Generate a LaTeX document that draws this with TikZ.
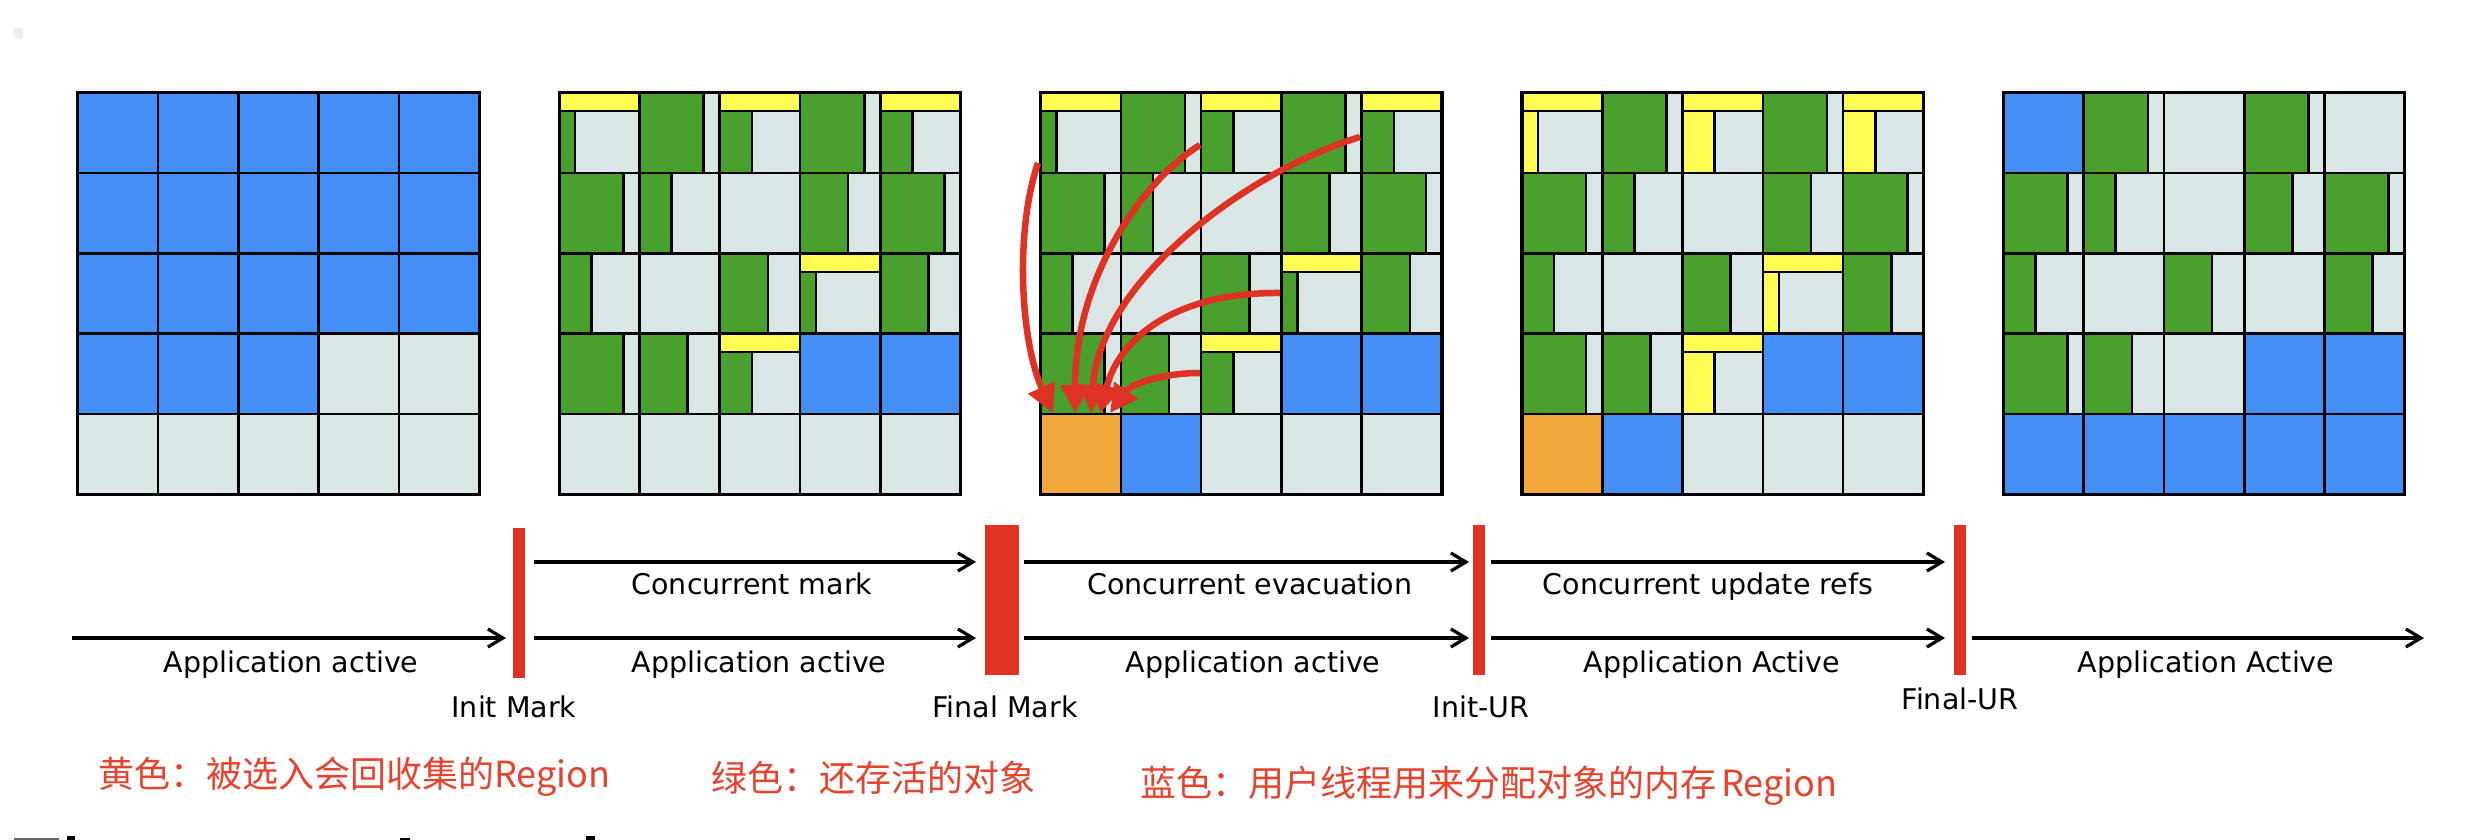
\documentclass[tikz,border=0pt]{standalone}
\usepackage{fontspec}
\setmainfont{DejaVu Sans}
\newfontfamily\cjkfont{Noto Sans CJK SC}
\usetikzlibrary{arrows.meta}
\definecolor{cblue}{HTML}{438FF6}
\definecolor{cgreen}{HTML}{4AA02C}
\definecolor{cgray}{HTML}{DAE5E5}
\definecolor{cyellow}{HTML}{FFFD54}
\definecolor{corange}{HTML}{F2A83B}
\definecolor{cred}{HTML}{DD3224}
\definecolor{clegend}{HTML}{E6432F}
\definecolor{cspeck}{HTML}{EEEEEE}
\definecolor{cfrag}{HTML}{666666}
\newcommand\cellxy[3]{\pgfmathsetmacro\gcx{#1+(#3-1)*80.3}\pgfmathsetmacro\gcy{92.7+(#2-1)*80.3}}
\newcommand\cfull[4]{\cellxy{#1}{#2}{#3}\draw[cellline,fill=#4] (\gcx,\gcy) rectangle ++(80.3,80.3);}
\newcommand\csplit[4]{\cellxy{#1}{#2}{#3}%
  \draw[cellline,fill=cgray] (\gcx,\gcy) rectangle ++(80.3,80.3);
  \draw[cellline,fill=cgreen] (\gcx,\gcy) rectangle ++(#4*80.3,80.3);}
\newcommand\cband[5]{\cellxy{#1}{#2}{#3}%
  \draw[cellline,fill=cgray] (\gcx,\gcy) rectangle ++(80.3,80.3);
  \draw[cellline,fill=cyellow] (\gcx,\gcy) rectangle ++(80.3,18.5);
  \draw[cellline,fill=#4] (\gcx,\gcy+18.5) rectangle ++(#5*80.3,61.8);}
\newcommand\midgrid[2]{%
  \cband{#1}{1}{1}{#2}{0.2}\csplit{#1}{1}{2}{0.8}\cband{#1}{1}{3}{#2}{0.4}\csplit{#1}{1}{4}{0.8}\cband{#1}{1}{5}{#2}{0.4}%
  \csplit{#1}{2}{1}{0.8}\csplit{#1}{2}{2}{0.4}\cfull{#1}{2}{3}{cgray}\csplit{#1}{2}{4}{0.6}\csplit{#1}{2}{5}{0.8}%
  \csplit{#1}{3}{1}{0.4}\cfull{#1}{3}{2}{cgray}\csplit{#1}{3}{3}{0.6}\cband{#1}{3}{4}{#2}{0.2}\csplit{#1}{3}{5}{0.6}%
  \csplit{#1}{4}{1}{0.8}\csplit{#1}{4}{2}{0.6}\cband{#1}{4}{3}{#2}{0.4}\cfull{#1}{4}{4}{cblue}\cfull{#1}{4}{5}{cblue}}
\newcommand\gborder[1]{\draw[outerline] (#1,92.7) rectangle ++(401.5,401.5);}
\begin{document}
\begin{tikzpicture}[x=1pt,y=-1pt,
  cellline/.style={draw=black,line width=2.6pt},
  outerline/.style={draw=black,line width=3.2pt},
  tl/.style={draw=black,line width=3.2pt,-{Straight Barb[length=15pt,width=18pt]}},
  evac/.style={draw=cred,line width=6.5pt,-{Triangle[length=28pt,width=28pt]}},
  pausebar/.style={fill=cred,draw=none},
  lbl/.style={font=\fontsize{28.5}{34}\selectfont,anchor=base,inner sep=0pt},
  legend/.style={font=\cjkfont\fontsize{36}{42}\selectfont,text=clegend,anchor=base west,inner sep=0pt}]
\useasboundingbox (0,0) rectangle (2478,840);
\fill[white] (0,0) rectangle (2478,840);
\fill[cspeck] (14,28) rectangle (23,38);
% ---------- grid 1
\foreach \r in {1,2,3}{\foreach \c in {1,...,5}{\cfull{77.7}{\r}{\c}{cblue}}}
\foreach \c in {1,2,3}{\cfull{77.7}{4}{\c}{cblue}}
\foreach \c in {4,5}{\cfull{77.7}{4}{\c}{cgray}}
\foreach \c in {1,...,5}{\cfull{77.7}{5}{\c}{cgray}}
\gborder{77.7}
% ---------- grid 2
\midgrid{559.1}{cgreen}
\foreach \c in {1,...,5}{\cfull{559.1}{5}{\c}{cgray}}
\gborder{559.1}
% ---------- grid 3
\midgrid{1040.5}{cgreen}
\cfull{1040.5}{5}{1}{corange}\cfull{1040.5}{5}{2}{cblue}
\foreach \c in {3,4,5}{\cfull{1040.5}{5}{\c}{cgray}}
\gborder{1040.5}
% ---------- grid 4
\midgrid{1521.9}{cyellow}
\cfull{1521.9}{5}{1}{corange}\cfull{1521.9}{5}{2}{cblue}
\foreach \c in {3,4,5}{\cfull{1521.9}{5}{\c}{cgray}}
\gborder{1521.9}
% ---------- grid 5
\cfull{2003.3}{1}{1}{cblue}\csplit{2003.3}{1}{2}{0.8}\cfull{2003.3}{1}{3}{cgray}\csplit{2003.3}{1}{4}{0.8}\cfull{2003.3}{1}{5}{cgray}
\csplit{2003.3}{2}{1}{0.8}\csplit{2003.3}{2}{2}{0.4}\cfull{2003.3}{2}{3}{cgray}\csplit{2003.3}{2}{4}{0.6}\csplit{2003.3}{2}{5}{0.8}
\csplit{2003.3}{3}{1}{0.4}\cfull{2003.3}{3}{2}{cgray}\csplit{2003.3}{3}{3}{0.6}\cfull{2003.3}{3}{4}{cgray}\csplit{2003.3}{3}{5}{0.6}
\csplit{2003.3}{4}{1}{0.8}\csplit{2003.3}{4}{2}{0.6}\cfull{2003.3}{4}{3}{cgray}\cfull{2003.3}{4}{4}{cblue}\cfull{2003.3}{4}{5}{cblue}
\foreach \c in {1,...,5}{\cfull{2003.3}{5}{\c}{cblue}}
\gborder{2003.3}
% ---------- evacuation arrows in grid 3
\coordinate (s1) at (1038,163); \coordinate (s2) at (1200,145);
\coordinate (s3) at (1360,137); \coordinate (s4) at (1280,293);
\coordinate (s5) at (1200,373);
\coordinate (t1) at (1053,413); \coordinate (t2) at (1075,413);
\coordinate (t3) at (1091,413); \coordinate (t4) at (1100,413);
\coordinate (t5) at (1110,413);
\draw[evac] (s1) .. controls (1015,230) and (1020,340) .. (t1);
\draw[evac] (s2) .. controls (1150,175) and (1075,270) .. (t2);
\draw[evac] (s3) .. controls (1250,170) and (1100,280) .. (t3);
\draw[evac] (s4) .. controls (1180,292) and (1120,335) .. (t4);
\draw[evac] (s5) .. controls (1160,373) and (1130,385) .. (t5);
% ---------- pause bars
\fill[pausebar] (513,528) rectangle (525,678);
\fill[pausebar] (985,525) rectangle (1019,675);
\fill[pausebar] (1473,525) rectangle (1485,675);
\fill[pausebar] (1954,525) rectangle (1966,675);
% ---------- timeline arrows
\coordinate (a0) at (72,638);  \coordinate (a1) at (506,638);
\coordinate (b0) at (534,562); \coordinate (b1) at (976,562);
\coordinate (c0) at (534,638); \coordinate (c1) at (976,638);
\coordinate (d0) at (1024,562);\coordinate (d1) at (1469,562);
\coordinate (e0) at (1024,638);\coordinate (e1) at (1469,638);
\coordinate (f0) at (1491,562);\coordinate (f1) at (1945,562);
\coordinate (g0) at (1491,638);\coordinate (g1) at (1945,638);
\coordinate (h0) at (1972,638);\coordinate (h1) at (2424,638);
\draw[tl] (a0) -- (a1);
\draw[tl] (b0) -- (b1);
\draw[tl] (c0) -- (c1);
\draw[tl] (d0) -- (d1);
\draw[tl] (e0) -- (e1);
\draw[tl] (f0) -- (f1);
\draw[tl] (g0) -- (g1);
\draw[tl] (h0) -- (h1);
% ---------- labels
\node[lbl] (l1) at (291,672) {Application active};
\node[lbl] (l2) at (514,717) {Init Mark};
\node[lbl] (l3) at (752,594) {Concurrent mark};
\node[lbl] (l4) at (759,672) {Application active};
\node[lbl] (l5) at (1005,717) {Final Mark};
\node[lbl] (l6) at (1250,594) {Concurrent evacuation};
\node[lbl] (l7) at (1253,672) {Application active};
\node[lbl] (l8) at (1481,717) {Init-UR};
\node[lbl] (l9) at (1708,594) {Concurrent update refs};
\node[lbl] (l10) at (1712,672) {Application Active};
\node[lbl] (l11) at (1960,709) {Final-UR};
\node[lbl] (l12) at (2206,672) {Application Active};
% ---------- legend
\node[legend] (lgy) at (98,787) {黄色：被选入会回收集的Region};
\node[legend] (lgg) at (711,791) {绿色：还存活的对象};
\node[legend] (lgb) at (1140,796) {蓝色：用户线程用来分配对象的内存\hspace{5pt}Region};
% ---------- cut-off heading fragments at the bottom edge
\fill[cfrag] (14,838) rectangle (59,840);
\fill[black] (67,836) rectangle (75,840);
\fill[black] (400,838) rectangle (410,840);
\fill[black] (586,836) rectangle (595,840);
\end{tikzpicture}
\end{document}
